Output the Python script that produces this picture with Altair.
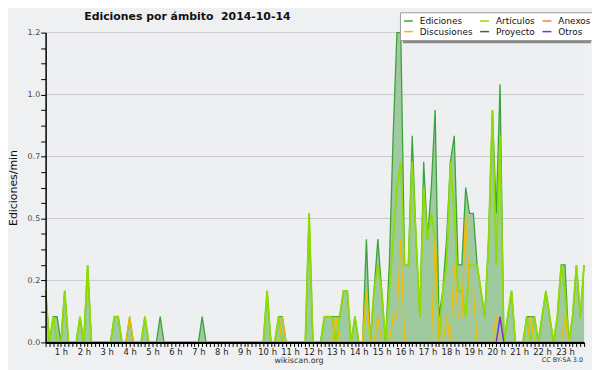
import altair as alt
import pandas as pd

TITLE = "Ediciones por ámbito\u00a0\u00a02014-10-14"
Y_TITLE = "Ediciones/min"
X_TITLE = "wikiscan.org"
LICENSE = "CC BY-SA 3.0"

series_names = ["Ediciones", "Artículos", "Anexos", "Discusiones", "Proyecto", "Otros"]
series_colors = ["#3aa33a", "#8fdd00", "#f47c4c", "#f4bb00", "#555555", "#7b2fe0"]
line_widths = {"Ediciones": 1.3, "Artículos": 1.8, "Anexos": 1.0,
               "Discusiones": 1.3, "Proyecto": 1.0, "Otros": 1.5}

# first bin 0:20, one bin every 10 minutes, last bin 23:50
start_minute = 20
step_minutes = 10

# edits per 10-minute bin (one row per hour, first row = 0:20..0:50)
ediciones = [
    2, 0, 1, 1,
    0, 2, 0, 0, 0, 1,
    0, 3, 0, 0, 0, 0,
    0, 0, 1, 1, 0, 0,
    1, 0, 0, 0, 1, 0,
    0, 0, 1, 0, 0, 0,
    0, 0, 0, 0, 0, 0,
    0, 1, 0, 0, 0, 0,
    0, 0, 0, 0, 0, 0,
    0, 0, 0, 0, 0, 0,
    2, 0, 0, 1, 1, 0,
    0, 0, 0, 0, 0, 5,
    0, 0, 0, 1, 1, 1,
    1, 1, 2, 2, 0, 1,
    0, 0, 4, 0, 2, 4,
    2, 0, 3, 8, 12, 12,
    3, 3, 8, 4, 1, 7,
    4, 6, 9, 1, 2, 4,
    7, 8, 3, 3, 6, 5,
    5, 3, 2, 1, 4, 9,
    5, 10, 0, 1, 2, 0,
    0, 0, 1, 1, 1, 0,
    1, 2, 1, 0, 1, 3,
    3, 0, 1, 3, 1, 3,
]
articulos = [
    2, 0, 1, 0,
    0, 2, 0, 0, 0, 1,
    0, 3, 0, 0, 0, 0,
    0, 0, 1, 1, 0, 0,
    0, 0, 0, 0, 1, 0,
    0, 0, 0, 0, 0, 0,
    0, 0, 0, 0, 0, 0,
    0, 0, 0, 0, 0, 0,
    0, 0, 0, 0, 0, 0,
    0, 0, 0, 0, 0, 0,
    2, 0, 0, 1, 0, 0,
    0, 0, 0, 0, 0, 5,
    0, 0, 0, 1, 1, 1,
    0, 1, 2, 2, 0, 1,
    0, 0, 2, 0, 2, 3,
    2, 0, 2, 4, 6, 7,
    3, 3, 7, 4, 1, 6,
    4, 5, 4, 0, 2, 3,
    7, 5, 2, 2, 1, 3,
    3, 3, 2, 1, 4, 9,
    3, 8, 0, 1, 2, 0,
    0, 0, 1, 0, 1, 0,
    1, 2, 1, 0, 1, 3,
    2, 0, 1, 3, 1, 3,
]
anexos = [0] * 142
discusiones = [
    0, 0, 0, 0,
    0, 0, 0, 0, 0, 0,
    0, 0, 0, 0, 0, 0,
    0, 0, 0, 0, 0, 0,
    1, 0, 0, 0, 0, 0,
    0, 0, 0, 0, 0, 0,
    0, 0, 0, 0, 0, 0,
    0, 0, 0, 0, 0, 0,
    0, 0, 0, 0, 0, 0,
    0, 0, 0, 0, 0, 0,
    0, 0, 0, 0, 1, 0,
    0, 0, 0, 0, 0, 0,
    0, 0, 0, 0, 0, 0,
    1, 0, 0, 0, 0, 0,
    0, 0, 2, 0, 0, 1,
    0, 0, 0, 1, 1, 4,
    0, 0, 0, 0, 0, 0,
    0, 0, 4, 0, 0, 1,
    0, 3, 1, 1, 5, 2,
    2, 0, 0, 0, 0, 0,
    1, 0, 0, 0, 0, 0,
    0, 0, 0, 1, 0, 0,
    0, 0, 0, 0, 0, 0,
    1, 0, 0, 0, 0, 0,
]
proyecto = [0] * 142
otros = [
    0, 0, 0, 0,
    0, 0, 0, 0, 0, 0,
    0, 0, 0, 0, 0, 0,
    0, 0, 0, 0, 0, 0,
    0, 0, 0, 0, 0, 0,
    0, 0, 0, 0, 0, 0,
    0, 0, 0, 0, 0, 0,
    0, 0, 0, 0, 0, 0,
    0, 0, 0, 0, 0, 0,
    0, 0, 0, 0, 0, 0,
    0, 0, 0, 0, 0, 0,
    0, 0, 0, 0, 0, 0,
    0, 0, 0, 0, 0, 0,
    0, 0, 0, 0, 0, 0,
    0, 0, 0, 0, 0, 0,
    0, 0, 0, 0, 0, 0,
    0, 0, 0, 0, 0, 0,
    0, 0, 0, 0, 0, 0,
    0, 0, 0, 0, 0, 0,
    0, 0, 0, 0, 0, 0,
    0, 1, 0, 0, 0, 0,
    0, 0, 0, 0, 0, 0,
    0, 0, 0, 0, 0, 0,
    0, 0, 0, 0, 0, 0,
]

grid_values = [0.24, 0.48, 0.72, 0.96, 1.2]

counts = {"Ediciones": ediciones, "Artículos": articulos, "Anexos": anexos,
          "Discusiones": discusiones, "Proyecto": proyecto, "Otros": otros}

minutes = [start_minute + step_minutes * i for i in range(len(ediciones))]

def frame(name):
    return pd.DataFrame({"min": minutes,
                         "v": [c / step_minutes for c in counts[name]],
                         "serie": name})

FONT = "DejaVu Sans"
x_scale = alt.Scale(domain=[minutes[0], minutes[-1]], nice=False, zero=False)
y_scale = alt.Scale(domain=[0, 1.2], nice=False, zero=True)

x_axis = alt.Axis(
    values=minutes, labelExpr="datum.value % 60 == 0 ? (datum.value / 60) + ' h' : ''",
    tickSize=4, tickColor="black", tickWidth=1, domainColor="black", domainWidth=2,
    labelFont=FONT, labelFontSize=8.5, labelColor="#222", labelPadding=1,
    labelOverlap=False, labelFlush=False, grid=False, zindex=1,
    title=X_TITLE, titleX=255.5, titleY=18.5, titleAlign="center", titleBaseline="middle",
    titleFont=FONT, titleFontSize=8, titleFontWeight="normal", titleColor="#333",
)
y_axis = alt.Axis(
    values=[round(0.06 * i, 2) for i in range(21)],
    labelExpr="round(datum.value / 0.06) % 4 == 0 ? format(datum.value, '.1f') : ''",
    tickSize=5, tickColor="black", domainColor="black", domainWidth=1.5,
    labelFont=FONT, labelFontSize=8, labelColor="#444", labelPadding=1,
    labelOverlap=False, labelFlush=False, grid=False, zindex=1,
    title=Y_TITLE, titleX=-32.5, titleY=156.5, titleAngle=270, titleAlign="center",
    titleBaseline="middle", titleFont=FONT, titleFontSize=11, titleFontWeight="normal",
    titleColor="#111",
)

legend = alt.Legend(
    title=None, orient="none", legendX=358, legendY=-20.5, columns=3,
    direction="horizontal", symbolType="stroke", symbolSize=81, symbolStrokeWidth=1.5,
    labelFont=FONT, labelFontSize=9, labelColor="#111", labelOffset=6,
    fillColor="white", strokeColor="#9a9a9a", padding=3, rowPadding=-2,
    columnPadding=4, labelLimit=200,
)
color_scale = alt.Scale(domain=series_names, range=series_colors)

X = alt.X("min:Q", scale=x_scale, axis=x_axis)
Y = alt.Y("v:Q", scale=y_scale, axis=y_axis)

grid = alt.Chart(pd.DataFrame({"g": grid_values})).mark_rule(
    color="#cacacd", strokeWidth=1).encode(y=alt.Y("g:Q", scale=y_scale, axis=y_axis))

area = alt.Chart(frame("Ediciones")).mark_area(color="#9fca9f", opacity=1).encode(x=X, y=Y)

def line(name):
    return alt.Chart(frame(name)).mark_line(strokeWidth=line_widths[name]).encode(
        x=X, y=Y,
        color=alt.Color("serie:N", scale=color_scale, legend=legend),
    )

shadow = alt.Chart(pd.DataFrame({"a": [0]})).mark_rect(color="#8a8a8a").encode(
    x=alt.value(361), x2=alt.value(551), y=alt.value(-17.5), y2=alt.value(10.8))

title_text = alt.Chart(pd.DataFrame({"t": [TITLE]})).mark_text(
    align="left", baseline="alphabetic", font=FONT, fontSize=11, fontWeight="bold",
    color="#111").encode(text="t:N", x=alt.value(39), y=alt.value(-12.7))

lic = alt.Chart(pd.DataFrame({"t": [LICENSE]})).mark_text(
    align="right", baseline="middle", font=FONT, fontSize=6.5, color="#333").encode(
    text="t:N", x=alt.value(543), y=alt.value(331))

layers = [grid, area] + [line(n) for n in ["Anexos", "Proyecto", "Ediciones",
                                           "Artículos", "Discusiones", "Otros"]] + \
         [shadow, title_text, lic]

chart = alt.layer(*layers).properties(
    width=544, height=313,
    padding={"left": 38, "top": 23, "right": 8, "bottom": 26},
    autosize=alt.AutoSizeParams(type="none"),
).configure(background="#eff0f1").configure_view(fill="#eeeff1", stroke=None)

chart.save("out.html", embed_options={"renderer": "svg", "actions": False})
